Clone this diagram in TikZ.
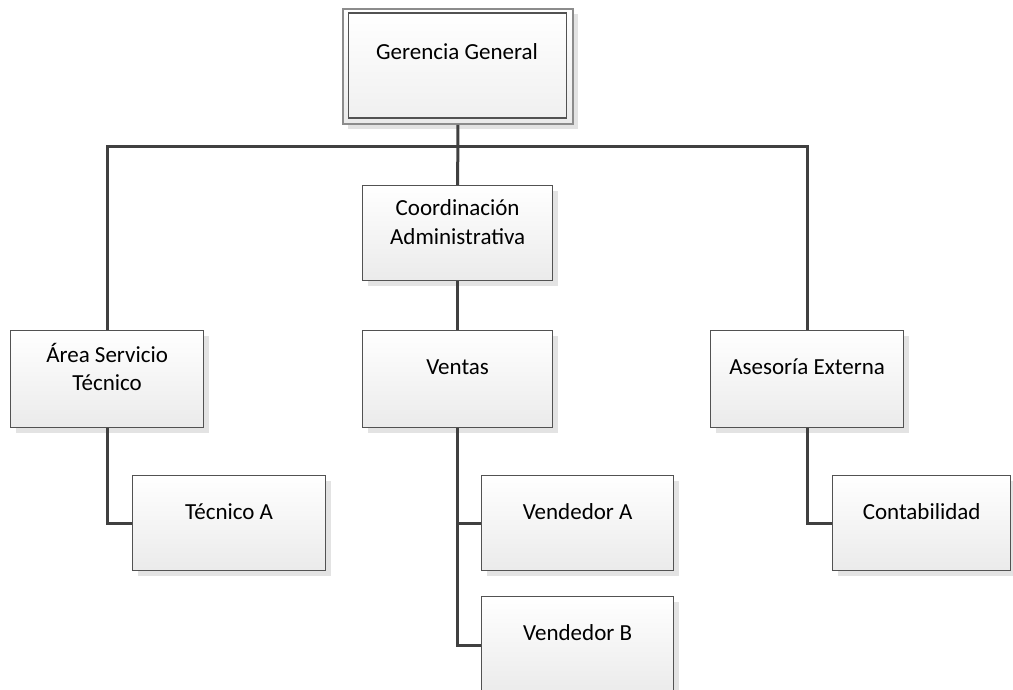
\documentclass[tikz,border=0pt]{standalone}
\usepackage{fontspec}
\setmainfont{Carlito}
\usetikzlibrary{shadows,calc}
\tikzset{
  box/.style={draw=black!68, line width=1.3pt, top color=white, bottom color=black!8,
    rectangle, inner sep=0pt, anchor=north west,
    general shadow={shadow xshift=5pt, shadow yshift=-5pt, fill=black!11, draw=none}},
  lbl/.style={align=center, font=\fontsize{23}{28.5}\selectfont, text=black, inner sep=0pt},
  conn/.style={draw=black!75, line width=3pt}
}
\begin{document}
\begin{tikzpicture}[x=1pt,y=-1pt]
\useasboundingbox (0,0) rectangle (1013,690);
\clip (0,0) rectangle (1013,690);
% top box (double border)
\node[box, draw=black!45, line width=1.8pt, minimum width=230pt, minimum height=115pt] (gerout) at (342,8) {};
\node[draw=black!68, line width=1.3pt, top color=white, bottom color=black!6, inner sep=0pt, anchor=north west,
  minimum width=218pt, minimum height=105pt] (ger) at (348,12.5) {};
\node[lbl] (tger) at (457,52) {Gerencia General};
% second level
\node[box, minimum width=190pt, minimum height=95pt] (coord) at (362,185) {};
\node[lbl] (tcoord) at ($(coord.north)+(0,37)$) {Coordinación\\Administrativa};
% third level
\node[box, minimum width=193pt, minimum height=97pt] (area) at (10,330) {};
\node[lbl] (tarea) at ($(area.north)+(0,37)$) {Área Servicio\\Técnico};
\node[box, minimum width=190pt, minimum height=97pt] (ventas) at (362,330) {};
\node[lbl] (tventas) at ($(ventas.north)+(0,37)$) {Ventas};
\node[box, minimum width=193pt, minimum height=97pt] (ases) at (710,330) {};
\node[lbl] (tases) at ($(ases.north)+(0,37)$) {Asesoría Externa};
% fourth level
\node[box, minimum width=193pt, minimum height=95pt] (teca) at (132,475) {};
\node[lbl] (tteca) at ($(teca.north)+(0,37)$) {Técnico A};
\node[box, minimum width=192pt, minimum height=95pt] (venda) at (481,475) {};
\node[lbl] (tvenda) at ($(venda.north)+(0,37)$) {Vendedor A};
\node[box, minimum width=192pt, minimum height=97pt] (vendb) at (481,596) {};
\node[lbl] (tvendb) at ($(vendb.north)+(0,37)$) {Vendedor B};
\node[box, minimum width=178pt, minimum height=95pt] (conta) at (832,475) {};
\node[lbl] (tconta) at ($(conta.north)+(0,37)$) {Contabilidad};
% connectors
\coordinate (bus) at (457,147);
\draw[conn] (gerout.south) -- (coord.north);
\draw[conn] (area.north) -- (area.north |- bus) -- (ases.north |- bus) -- (ases.north);
\draw[conn] (coord.south) -- (ventas.north);
\draw[conn] (area.south) |- (teca.west);
\draw[conn] (ases.south) |- (conta.west);
\draw[conn] (ventas.south) |- (vendb.west);
\draw[conn] (ventas.south |- venda.west) -- (venda.west);
\end{tikzpicture}
\end{document}
